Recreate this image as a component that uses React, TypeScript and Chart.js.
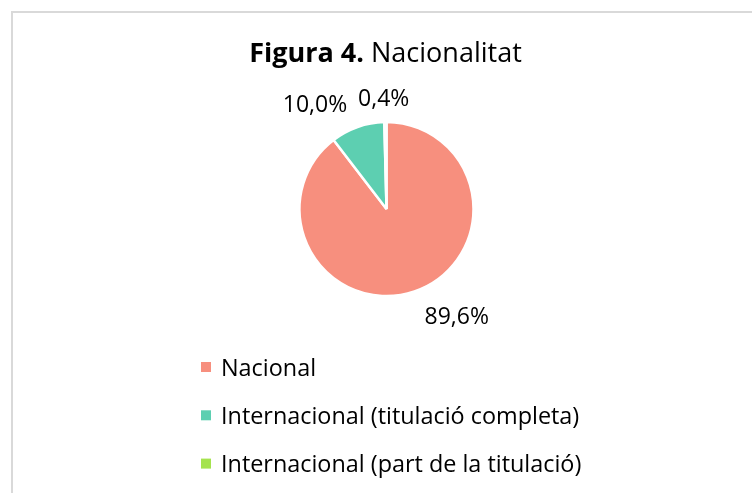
import React, { useEffect, useRef } from "react";
import { Chart, registerables } from "chart.js";

Chart.register(...registerables);

const categories = [
  "Nacional",
  "Internacional (titulació completa)",
  "Internacional (part de la titulació)",
];
const values = [89.6, 10.0, 0.4];
const valueLabels = ["89,6%", "10,0%", "0,4%"];
const colors = ["#F78F7E", "#5DCFB1", "#A5E34E"];
const titleBold = "Figura 4.";
const titleNormal = " Nacionalitat";

const FONT = "'Open Sans', 'Noto Sans', sans-serif";

const framePlugin = {
  id: "frame",
  beforeDraw(chart: any) {
    const ctx = chart.ctx;
    ctx.save();
    ctx.fillStyle = "#ffffff";
    ctx.fillRect(0, 0, chart.width, chart.height);
    ctx.strokeStyle = "#d9d9d9";
    ctx.lineWidth = 2;
    ctx.strokeRect(12, 12, chart.width + 20, chart.height + 20);
    ctx.restore();
  },
};

const titlePlugin = {
  id: "mixedTitle",
  afterDraw(chart: any) {
    const ctx = chart.ctx;
    ctx.save();
    ctx.fillStyle = "#000000";
    ctx.textBaseline = "alphabetic";
    ctx.font = `bold 27px ${FONT}`;
    const wb = ctx.measureText(titleBold).width;
    ctx.font = `27px ${FONT}`;
    const wn = ctx.measureText(titleNormal).width;
    const cx = 385.5;
    const x0 = cx - (wb + wn) / 2;
    const y = 62;
    ctx.font = `bold 27px ${FONT}`;
    ctx.fillText(titleBold, x0, y);
    ctx.font = `27px ${FONT}`;
    ctx.fillText(titleNormal, x0 + wb, y);
    ctx.restore();
  },
};

const legendPlugin = {
  id: "listLegend",
  afterDraw(chart: any) {
    const ctx = chart.ctx;
    const labels = chart.data.labels as string[];
    const bg = chart.data.datasets[0].backgroundColor as string[];
    ctx.save();
    ctx.textBaseline = "alphabetic";
    ctx.font = `23.4px ${FONT}`;
    const baseY = 375.5;
    const step = 48.3;
    labels.forEach((lab, i) => {
      const by = baseY + i * step;
      ctx.fillStyle = bg[i];
      ctx.fillRect(201, by - 13.5, 10, 10);
      ctx.fillStyle = "#000000";
      ctx.fillText(lab, 221, by);
    });
    ctx.restore();
  },
};

const labelPlugin = {
  id: "outLabels",
  afterDatasetsDraw(chart: any) {
    const ctx = chart.ctx;
    const meta = chart.getDatasetMeta(0);
    ctx.save();
    ctx.font = `23px ${FONT}`;
    ctx.fillStyle = "#000000";
    ctx.textBaseline = "alphabetic";
    ctx.textAlign = "center";
    const asc = ctx.measureText("0").actualBoundingBoxAscent || 16;
    meta.data.forEach((arc: any, i: number) => {
      const mid = (arc.startAngle + arc.endAngle) / 2;
      const d = arc.outerRadius + 16;
      const px = arc.x + Math.cos(mid) * d;
      const py = arc.y + Math.sin(mid) * d;
      const text = valueLabels[i];
      const w = ctx.measureText(text).width;
      const fx = Math.max(-1, Math.min(1, Math.cos(mid) * 4));
      const fy = Math.max(-1, Math.min(1, Math.sin(mid) * 4));
      const x = px + (w / 2 + 5) * fx;
      const y = py + (asc * (1 + fy)) / 2;
      ctx.fillText(text, x, y);
    });
    ctx.restore();
  },
};

export default function App() {
  const ref = useRef<HTMLCanvasElement | null>(null);
  useEffect(() => {
    if (!ref.current) return;
    const chart = new Chart(ref.current, {
      type: "pie",
      data: {
        labels: categories,
        datasets: [
          {
            data: values,
            backgroundColor: colors,
            borderColor: "#ffffff",
            borderWidth: 2.5,
            hoverOffset: 0,
          },
        ],
      },
      options: {
        animation: false,
        responsive: false,
        radius: 87,
        layout: { padding: { left: 121, right: 100, top: 100, bottom: 175 } },
        plugins: {
          legend: { display: false },
          title: { display: false },
          tooltip: { enabled: false },
        },
      } as any,
      plugins: [framePlugin, titlePlugin, legendPlugin, labelPlugin],
    });
    return () => chart.destroy();
  }, []);
  return (
    <canvas
      ref={ref}
      width={752}
      height={493}
      style={{ position: "fixed", left: 0, top: 0, width: 752, height: 493 }}
    />
  );
}
